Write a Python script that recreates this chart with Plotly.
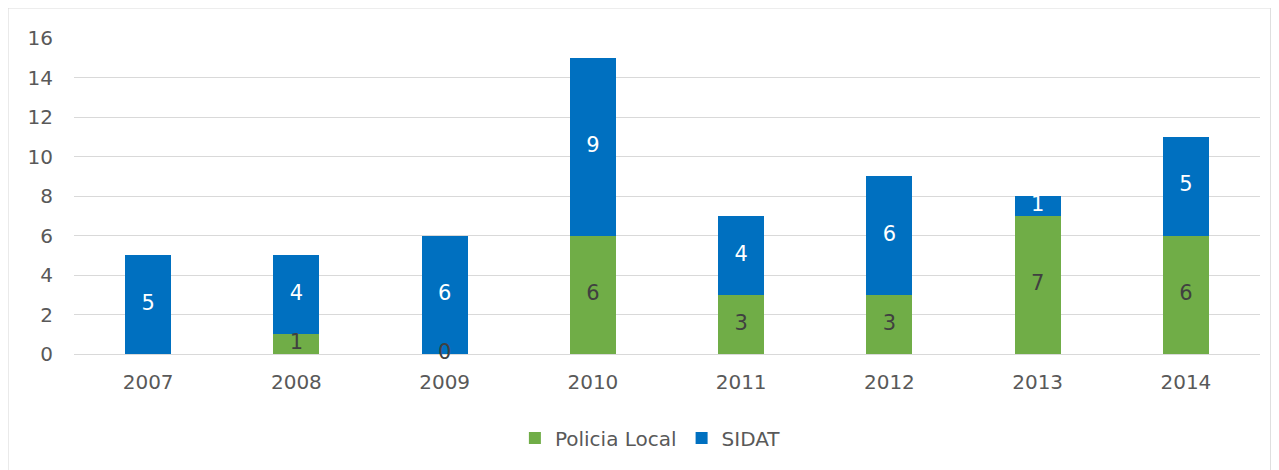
import plotly.graph_objects as go

years = ["2007", "2008", "2009", "2010", "2011", "2012", "2013", "2014"]
policia_local = [None, 1, 0, 6, 3, 3, 7, 6]
sidat = [5, 4, 6, 9, 4, 6, 1, 5]
y_ticks = [0, 2, 4, 6, 8, 10, 12, 14, 16]

GREEN = "#70AD47"
BLUE = "#0070C0"
FONT = "DejaVu Sans"
FS = 20

fig = go.Figure()
fig.add_trace(go.Bar(x=years, y=policia_local, name="Policia Local",
                     marker=dict(color=GREEN, line=dict(width=0))))
fig.add_trace(go.Bar(x=years, y=sidat, name="SIDAT",
                     marker=dict(color=BLUE, line=dict(width=0))))

# data labels centered in each segment
pl_x, pl_y, pl_t = [], [], []
sd_x, sd_y, sd_t = [], [], []
for yr, p, s in zip(years, policia_local, sidat):
    base = p if p is not None else 0
    if p is not None:
        pl_x.append(yr); pl_y.append(p / 2); pl_t.append(str(p))
    sd_x.append(yr); sd_y.append(base + s / 2); sd_t.append(str(s))

fig.add_trace(go.Scatter(x=pl_x, y=pl_y, text=pl_t, mode="text", showlegend=False,
                         textfont=dict(family=FONT, size=FS + 1, color="#404040"),
                         textposition="middle center", cliponaxis=False, hoverinfo="skip"))
fig.add_trace(go.Scatter(x=sd_x, y=sd_y, text=sd_t, mode="text", showlegend=False,
                         textfont=dict(family=FONT, size=FS + 1, color="#FFFFFF"),
                         textposition="middle center", cliponaxis=False, hoverinfo="skip"))

fig.update_layout(
    barmode="stack",
    bargap=0.69,
    width=1279, height=470,
    margin=dict(l=66, r=27, t=30, b=124),
    paper_bgcolor="white", plot_bgcolor="white",
    font=dict(family=FONT, size=FS, color="#595959"),
    legend=dict(orientation="h", x=0.486, xanchor="center", y=-0.266, yanchor="middle",
                font=dict(family=FONT, size=FS, color="#595959"),
                itemsizing="constant", traceorder="normal", itemwidth=30),
    xaxis=dict(showgrid=False, showline=False, ticks="", ticklabelstandoff=14,
               tickfont=dict(size=FS, color="#595959")),
    yaxis=dict(range=[0, 16], tickvals=y_ticks, showgrid=True, gridcolor="#D9D9D9",
               gridwidth=1, zeroline=True, zerolinecolor="#D9D9D9", zerolinewidth=1,
               showline=False, ticks="", ticklabelstandoff=20,
               tickfont=dict(size=FS, color="#595959")),
    shapes=[dict(type="rect", xref="paper", yref="paper",
                 x0=-0.0556, x1=1.009, y0=-0.4, y1=1.095,
                 line=dict(color="#D9D9D9", width=1), fillcolor="rgba(0,0,0,0)", layer="below")],
)

fig.write_html("out.html")
